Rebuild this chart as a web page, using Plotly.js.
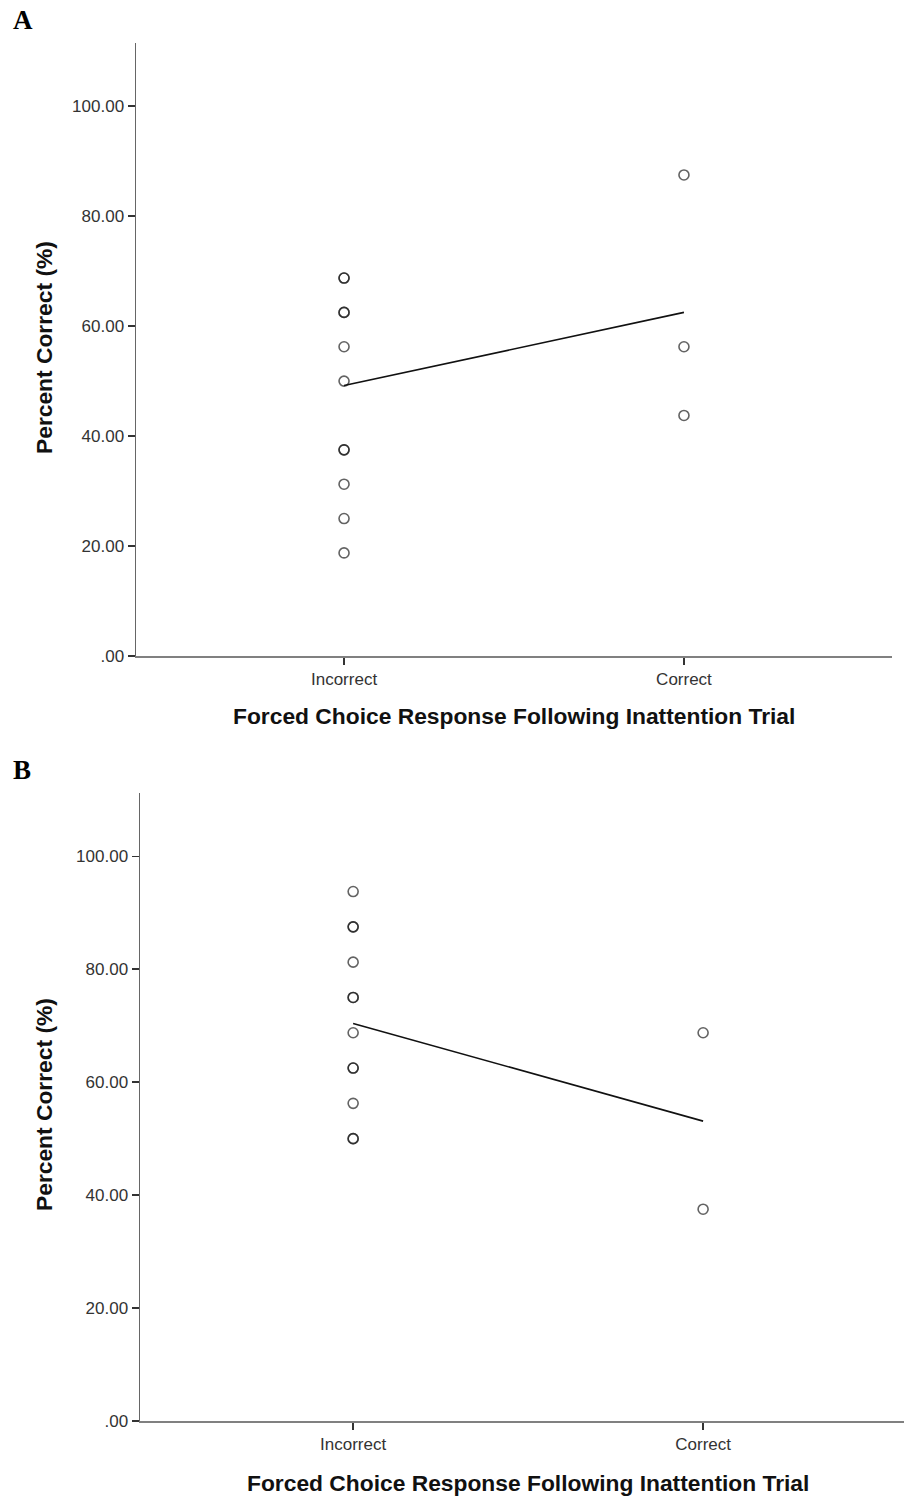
<!DOCTYPE html>
<html>
<head>
<meta charset="utf-8">
<script src="https://cdn.plot.ly/plotly-3.0.1.min.js"></script>
<style>html,body{margin:0;padding:0;background:#fff;}#chart{width:904px;height:1498px;}</style>
</head>
<body>
<div id="chart"></div>
<script>
// ---- data ----
const categories = ["Incorrect", "Correct"];
const yTickVals = [0, 20, 40, 60, 80, 100];
const yTickText = [".00", "20.00", "40.00", "60.00", "80.00", "100.00"];

// Panel A: individual percent-correct scores (duplicates drawn twice)
const aIncorrect = [68.75, 68.75, 62.5, 62.5, 56.25, 50, 37.5, 37.5, 31.25, 25, 18.75];
const aCorrect = [87.5, 56.25, 43.75];
const aMeans = [49.2, 62.5];

// Panel B
const bIncorrect = [93.75, 87.5, 87.5, 81.25, 75, 75, 68.75, 62.5, 62.5, 56.25, 50, 50];
const bCorrect = [68.75, 37.5];
const bMeans = [70.4, 53.1];

const xTitle = "Forced Choice Response Following Inattention Trial";
const yTitle = "Percent Correct (%)";

// ---- helpers ----
const W = 904, H = 1498;
const px = x => x / W;
const py = y => 1 - y / H;

const markerStyle = {symbol: "circle-open", size: 10, color: "rgba(25,25,25,0.68)", line: {width: 1.6, color: "rgba(25,25,25,0.68)"}};

function pointsTrace(vals, cat, xa, ya) {
  return {type: "scatter", mode: "markers", x: vals.map(() => cat), y: vals,
    xaxis: xa, yaxis: ya, marker: markerStyle, hoverinfo: "y", showlegend: false};
}
function meanTrace(means, xa, ya) {
  return {type: "scatter", mode: "lines", x: categories, y: means, xaxis: xa, yaxis: ya,
    line: {color: "#111", width: 1.6}, showlegend: false};
}

const traces = [
  pointsTrace(aIncorrect, categories[0], "x", "y"),
  pointsTrace(aCorrect, categories[1], "x", "y"),
  meanTrace(aMeans, "x", "y"),
  pointsTrace(bIncorrect, categories[0], "x2", "y2"),
  pointsTrace(bCorrect, categories[1], "x2", "y2"),
  meanTrace(bMeans, "x2", "y2")
];

const tickFont = {family: "Liberation Sans, Arial, sans-serif", size: 17, color: "#333"};
function xAxis(domain, range, anchor) {
  return {type: "category", categoryorder: "array", categoryarray: categories,
    domain: domain, range: range, anchor: anchor,
    showline: true, linecolor: "#808080", linewidth: 2, showgrid: false, zeroline: false,
    ticks: "outside", ticklen: 7, tickwidth: 1.5, tickcolor: "#333", tickfont: tickFont, fixedrange: true};
}
function yAxis(domain, range, anchor) {
  return {domain: domain, range: range, anchor: anchor,
    showline: true, linecolor: "#666", linewidth: 1.5, showgrid: false, zeroline: false,
    tickmode: "array", tickvals: yTickVals, ticktext: yTickText,
    ticks: "outside", ticklen: 7, tickwidth: 1.5, tickcolor: "#333", tickfont: tickFont, fixedrange: true};
}

const titleFont = {family: "Liberation Sans, Arial, sans-serif", size: 22.8, color: "#111"};
const letterFont = {family: "Liberation Serif, Times New Roman, serif", size: 27, color: "#000"};
function ann(text, x, y, font, angle) {
  return {text: text, xref: "paper", yref: "paper", x: px(x), y: py(y), xanchor: "center", yanchor: "middle",
    showarrow: false, font: font, textangle: angle || 0};
}

const layout = {
  width: W, height: H, margin: {l: 0, r: 0, t: 0, b: 0},
  paper_bgcolor: "#fff", plot_bgcolor: "#fff", showlegend: false,
  xaxis: xAxis([px(136), px(892)], [-0.612, 1.612], "y"),
  yaxis: yAxis([py(656), py(43)], [0, 111.5], "x"),
  xaxis2: xAxis([px(140), 1], [-0.609, 1.574], "y2"),
  yaxis2: yAxis([py(1421), py(793)], [0, 111.2], "x2"),
  annotations: [
    ann("<b>" + xTitle + "</b>", 514, 716, titleFont),
    ann("<b>" + yTitle + "</b>", 44, 348, titleFont, -90),
    ann("<b>" + xTitle + "</b>", 528, 1483, titleFont),
    ann("<b>" + yTitle + "</b>", 44, 1105, titleFont, -90),
    {text: "<b>A</b>", xref: "paper", yref: "paper", x: px(11), y: py(20), xanchor: "left", yanchor: "middle", showarrow: false, font: letterFont},
    {text: "<b>B</b>", xref: "paper", yref: "paper", x: px(11), y: py(770), xanchor: "left", yanchor: "middle", showarrow: false, font: letterFont}
  ]
};

Plotly.newPlot("chart", traces, layout, {staticPlot: true, displayModeBar: false});
</script>
</body>
</html>
